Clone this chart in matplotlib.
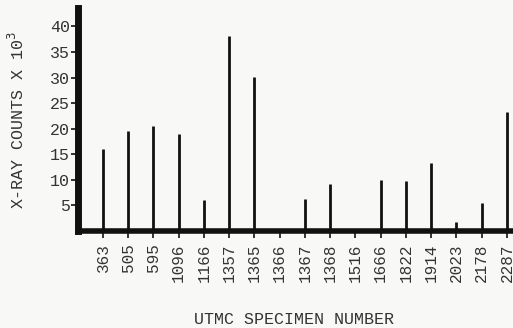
import matplotlib
matplotlib.use("Agg")
import matplotlib.pyplot as plt

specimens = ["363", "505", "595", "1096", "1166", "1357", "1365", "1366", "1367",
             "1368", "1516", "1666", "1822", "1914", "2023", "2178", "2287"]
counts = [16.0, 19.6, 20.5, 18.9, 6.1, 38.2, 30.2, 0, 6.3,
          9.1, 0, 9.9, 9.7, 13.2, 1.7, 5.5, 23.2]
yticks = [5, 10, 15, 20, 25, 30, 35, 40]

plt.rcParams['font.family'] = ['Liberation Mono', 'DejaVu Sans Mono']
bg = '#f8f8f6'
ink = '#111111'
txt = '#333333'

fig = plt.figure(figsize=(5.13, 3.28), dpi=100, facecolor=bg)
ax = fig.add_axes([78/513, 97/328, 1 - 78/513, (231-8)/328])
ax.set_facecolor(bg)

x = list(range(len(specimens)))
ax.vlines(x, 0, counts, colors=ink, linewidth=2.0)

ax.set_xlim(-0.99, 16.24)
ax.set_ylim(0, 43.6)

for s in ['top', 'right']:
    ax.spines[s].set_visible(False)
ax.spines['left'].set_linewidth(5)
ax.spines['bottom'].set_linewidth(4)
ax.spines['left'].set_color(ink)
ax.spines['bottom'].set_color(ink)

ax.set_yticks(yticks)
ax.set_yticklabels([str(v) for v in yticks])
ax.set_xticks(x)
ax.set_xticklabels(specimens, rotation=90)
ax.tick_params(axis='y', length=5, width=1.2, color=ink, labelsize=12, labelcolor=txt, pad=1)
ax.tick_params(axis='x', length=5, width=1.2, color=ink, labelsize=11.5, labelcolor=txt, pad=4)

ax.set_ylabel(r"X-RAY COUNTS X 10$^3$", fontsize=12, color=txt)
ax.yaxis.set_label_coords(-51/435, 0.50)
fig.text(294/513, 1 - 320/328, "UTMC SPECIMEN NUMBER", fontsize=12, color=txt,
         ha='center', va='center')

fig.savefig("out.png", dpi=100, facecolor=bg)
